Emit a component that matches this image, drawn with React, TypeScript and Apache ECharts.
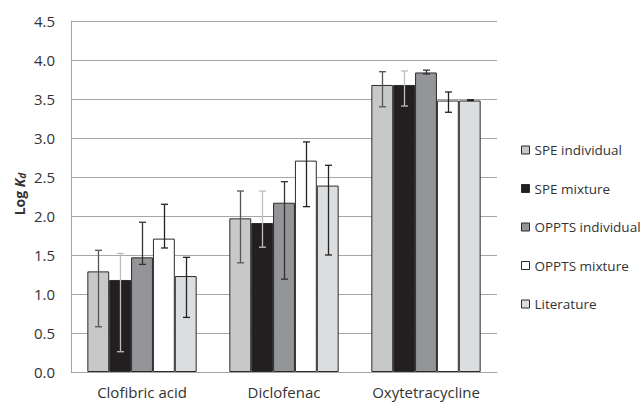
import React, { useEffect, useRef } from "react";
import * as echarts from "echarts";

const categories = ["Clofibric acid", "Diclofenac", "Oxytetracycline"];
const seriesNames = ["SPE individual", "SPE mixture", "OPPTS individual", "OPPTS mixture", "Literature"];
const speIndividual = [1.29, 1.97, 3.68];
const speMixture = [1.18, 1.91, 3.68];
const opptsIndividual = [1.47, 2.17, 3.84];
const opptsMixture = [1.71, 2.71, 3.48];
const literature = [1.23, 2.39, 3.48];
const speIndividualErr = [[0.58, 1.56], [1.40, 2.32], [3.40, 3.85]];
const speMixtureErr = [[0.26, 1.52], [1.60, 2.32], [3.41, 3.86]];
const opptsIndividualErr = [[1.38, 1.92], [1.19, 2.44], [3.82, 3.87]];
const opptsMixtureErr = [[1.59, 2.15], [2.12, 2.95], [3.33, 3.59]];
const literatureErr = [[0.70, 1.47], [1.50, 2.65], [3.48, 3.49]];
const yTicks = [0, 0.5, 1, 1.5, 2, 2.5, 3, 3.5, 4, 4.5];

const barColors = ["#c7c8ca", "#231f20", "#939598", "#ffffff", "#dcdddf"];
const errColors = ["#555555", "#bdbdbd", "#333333", "#222222", "#222222"];
const FONT = "Open Sans";

export default function App() {
  const ref = useRef<HTMLDivElement>(null);
  useEffect(() => {
    if (!ref.current) return;
    const chart = echarts.init(ref.current, undefined, { renderer: "svg" });
    const values = [speIndividual, speMixture, opptsIndividual, opptsMixture, literature];
    const errs = [speIndividualErr, speMixtureErr, opptsIndividualErr, opptsMixtureErr, literatureErr];
    const gapRatio = 0.23;
    const barSeries = seriesNames.map((name, i) => ({
      name,
      type: "bar",
      data: values[i],
      barGap: "0%",
      barCategoryGap: "23%",
      itemStyle: { color: barColors[i], borderColor: "#2b2b2b", borderWidth: 1 },
      z: 2,
    }));
    const errSeries = seriesNames.map((name, i) => ({
      name: name + " err",
      type: "custom",
      z: 5,
      data: errs[i].map((e, k) => [k, e[0], e[1]]),
      encode: { x: 0, y: [1, 2] },
      renderItem: (params: any, api: any) => {
        const k = api.value(0);
        const lo = api.coord([k, api.value(1)]);
        const hi = api.coord([k, api.value(2)]);
        const band = api.size([1, 0])[0];
        const bw = (band * (1 - gapRatio)) / 5;
        const x = Math.round(lo[0] + (i - 2) * bw) + 0.5;
        const cap = 3.5;
        const style = { stroke: errColors[i], lineWidth: 1.3, fill: "none" };
        return {
          type: "group",
          children: [
            { type: "line", shape: { x1: x, y1: lo[1], x2: x, y2: hi[1] }, style },
            { type: "line", shape: { x1: x - cap, y1: lo[1], x2: x + cap, y2: lo[1] }, style },
            { type: "line", shape: { x1: x - cap, y1: hi[1], x2: x + cap, y2: hi[1] }, style },
          ],
        };
      },
    }));
    chart.setOption({
      animation: false,
      backgroundColor: "#ffffff",
      textStyle: { fontFamily: FONT },
      grid: { left: 71, right: 146, top: 21, bottom: 30 },
      legend: {
        data: seriesNames,
        orient: "vertical",
        left: 521,
        top: 143,
        padding: 0,
        itemWidth: 8,
        itemHeight: 8,
        itemGap: 24.5,
        icon: "rect",
        textStyle: { fontFamily: FONT, fontSize: 13.5, color: "#333333", lineHeight: 14 },
        itemStyle: { borderColor: "#2b2b2b", borderWidth: 1 },
      },
      graphic: [
        {
          type: "text",
          x: 19,
          y: 194,
          rotation: Math.PI / 2,
          style: {
            text: "{b|Log }{i|K}{s|d}",
            align: "center",
            verticalAlign: "middle",
            rich: {
              b: { fontFamily: FONT, fontSize: 14, fontWeight: "bold", fill: "#333333", color: "#333333" },
              i: { fontFamily: FONT, fontSize: 14, fontWeight: "bold", fontStyle: "italic", fill: "#333333", color: "#333333" },
              s: { fontFamily: FONT, fontSize: 10, fontWeight: "bold", fontStyle: "italic", fill: "#333333", color: "#333333", padding: [6, 0, 0, 0] },
            },
          },
        },
      ],
      xAxis: {
        type: "category",
        data: categories,
        axisLine: { lineStyle: { color: "#a6a6a6", width: 1 } },
        axisTick: { show: false },
        axisLabel: { fontFamily: FONT, fontSize: 15, color: "#333333", margin: 12 },
      },
      yAxis: {
        type: "value",
        min: 0,
        max: 4.5,
        interval: 0.5,
        axisLine: { show: true, lineStyle: { color: "#a6a6a6", width: 1 } },
        axisTick: { show: false },
        splitLine: { lineStyle: { color: "#a6a6a6", width: 1 } },
        axisLabel: {
          fontFamily: FONT,
          fontSize: 15,
          color: "#333333",
          margin: 16,
          formatter: (v: number) => (yTicks.includes(v) ? v.toFixed(1) : ""),
        },
      },
      series: [...barSeries, ...errSeries],
    });
    return () => chart.dispose();
  }, []);
  return <div ref={ref} style={{ position: "fixed", left: 0, top: 0, width: 643, height: 402 }} />;
}
